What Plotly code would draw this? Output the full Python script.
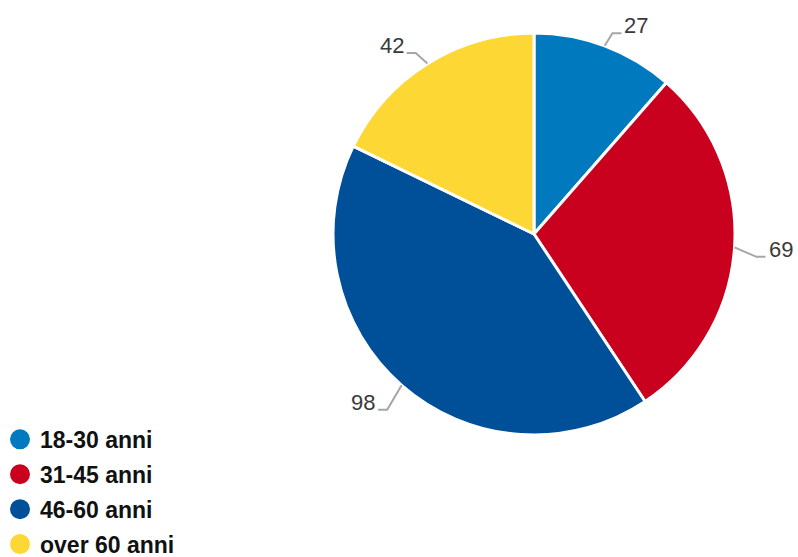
import math
import plotly.graph_objects as go

# data
age_groups = ["18-30 anni", "31-45 anni", "46-60 anni", "over 60 anni"]
counts = [27, 69, 98, 42]
colors = ["#0079bf", "#c9001e", "#004f99", "#fdd835"]

W, H = 798, 557
CX, CY, R = 534, 234, 201  # pie centre / radius in pixels
LABEL_GAP = 22
DROP = 8
HOOK = 9


def px(x):
    return x / W


def py(y):
    return 1 - y / H


fig = go.Figure()

fig.add_trace(go.Pie(
    labels=age_groups,
    values=counts,
    sort=False,
    direction="clockwise",
    rotation=0,
    textinfo="none",
    hoverinfo="label+value",
    marker=dict(colors=colors, line=dict(color="white", width=3)),
    domain=dict(x=[px(CX - R), px(CX + R)], y=[py(CY + R), py(CY - R)]),
    showlegend=False,
))

# legend entries with round markers
for name, col in zip(age_groups, colors):
    fig.add_trace(go.Scatter(
        x=[None], y=[None], mode="markers", name=name, legendgroup=name,
        marker=dict(symbol="circle", size=16, color=col, line=dict(color=col, width=4)),
    ))

# outside labels with bent connectors
total = sum(counts)
start = 0
for v in counts:
    mid = (start + v / 2) / total * 2 * math.pi
    start += v
    ux, uy = math.sin(mid), -math.cos(mid)
    ex, ey = CX + R * ux, CY + R * uy
    bx, by = CX + (R + LABEL_GAP) * ux, CY + (R + LABEL_GAP) * uy + DROP
    side = 1 if ux >= 0 else -1
    hx = bx + side * HOOK
    fig.add_shape(
        type="path", xref="paper", yref="paper",
        path=f"M {px(ex)},{py(ey)} L {px(bx)},{py(by)} L {px(hx)},{py(by)}",
        line=dict(color="#a6a6a6", width=2),
    )
    fig.add_annotation(
        x=px(hx + side * 1), y=py(by - 7.5), xref="paper", yref="paper",
        text=str(v), showarrow=False,
        xanchor="left" if side > 0 else "right", yanchor="middle",
        font=dict(size=22, color="#3a3a3a", family="Liberation Sans, Arial, sans-serif"),
    )

fig.update_layout(
    width=W,
    height=H,
    margin=dict(l=0, r=0, t=0, b=0, autoexpand=False),
    paper_bgcolor="white",
    plot_bgcolor="white",
    xaxis=dict(visible=False),
    yaxis=dict(visible=False),
    legend=dict(
        x=0, y=-0.016, xanchor="left", yanchor="bottom",
        bgcolor="rgba(0,0,0,0)",
        tracegroupgap=2,
        font=dict(size=23, color="#111111", family="Liberation Sans, Arial, sans-serif",
                  weight="bold"),
    ),
)

fig.write_html("out.html", config={"displayModeBar": False},
               post_script="document.body.style.margin='0';")
